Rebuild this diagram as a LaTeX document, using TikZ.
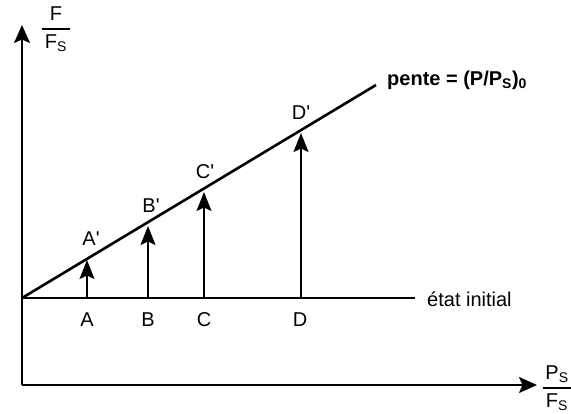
\documentclass[tikz,border=0pt]{standalone}
\usepackage{amsmath}
\usepackage{fontspec}
\setmainfont{Liberation Sans}
\usetikzlibrary{arrows.meta}
\newcommand{\axfrac}[2]{$\genfrac{}{}{1.1pt}{0}{#1}{\,#2\,}$}
\begin{document}
\begin{tikzpicture}[x=1pt,y=-1pt,
  lbl/.style={font=\fontsize{20}{22}\selectfont, inner sep=0pt},
  axis/.style={line width=1.6pt, -{Stealth[length=18pt,width=16pt,inset=3.5pt]}},
  vec/.style={line width=1.8pt, -{Stealth[length=19pt,width=15pt,inset=3.5pt]}},
  base/.style={line width=1.6pt},
  slope/.style={line width=2.6pt}]
\useasboundingbox (0,0) rectangle (571,414);
% axes
\coordinate (O) at (22,385);
\coordinate (Ytip) at (22,25);
\coordinate (Xtip) at (537,385);
\draw[axis] (O) -- (Ytip);
\draw[axis] (O) -- (Xtip);
% initial state line
\coordinate (S) at (22,298);
\coordinate (Send) at (415,298);
\draw[base] (S) -- (Send);
% slope line
\coordinate (Lend) at (376,85);
\draw[slope] (S) -- (Lend);
% base points and arrows
\coordinate (pA) at (87,298);
\coordinate (pB) at (148,298);
\coordinate (pC) at (204,298);
\coordinate (pD) at (301,298);
\coordinate (tA) at (87,260);
\coordinate (tB) at (148,226);
\coordinate (tC) at (204,192);
\coordinate (tD) at (301,133);
\draw[vec] (pA) -- (tA);
\draw[vec] (pB) -- (tB);
\draw[vec] (pC) -- (tC);
\draw[vec] (pD) -- (tD);
% labels
\node[lbl] (A) at (87,320) {A};
\node[lbl] (B) at (148,320) {B};
\node[lbl] (C) at (204,320) {C};
\node[lbl] (D) at (300,320) {D};
\node[lbl] (Ap) at (91,239) {A\textquotesingle};
\node[lbl] (Bp) at (151,206) {B\textquotesingle};
\node[lbl] (Cp) at (205,172) {C\textquotesingle};
\node[lbl] (Dp) at (301,113) {D\textquotesingle};
\node[lbl, anchor=west] (etat) at (427,299) {état initial};
\node[lbl, anchor=west] (pente) at (387,80) {\textbf{pente = (P/P$_{\text{S}}$)$_{\text{0}}$}};
\node[lbl] (yl) at (56,29) {\axfrac{\text{F}}{\text{F}_{\text{S}}}};
\node[lbl] (xl) at (557,388) {\axfrac{\text{P}_{\text{S}}}{\text{F}_{\text{S}}}};
\end{tikzpicture}
\end{document}
